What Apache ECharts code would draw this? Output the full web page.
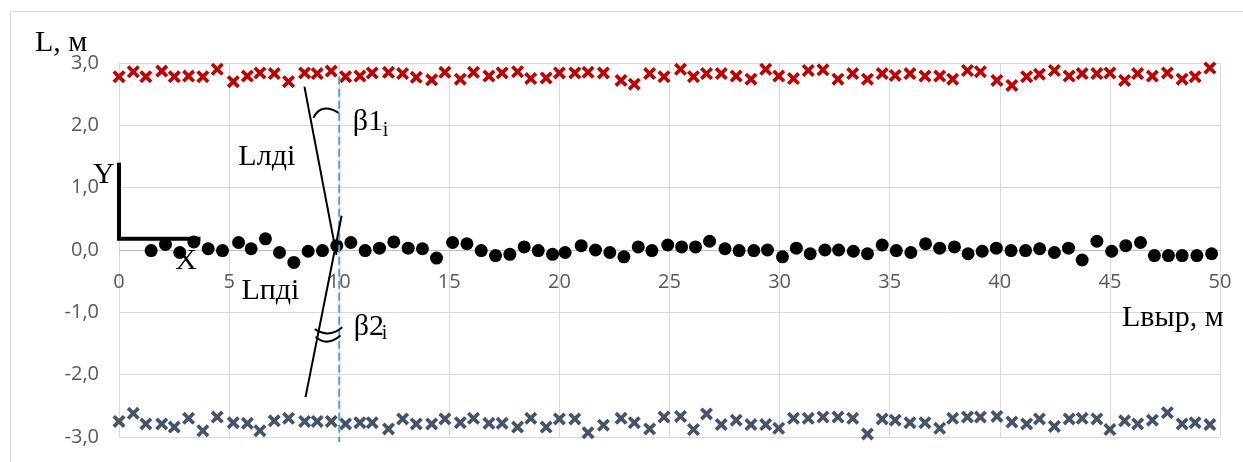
<!DOCTYPE html>
<html>
<head>
<meta charset="utf-8">
<script src="https://cdn.jsdelivr.net/npm/echarts@6/dist/echarts.min.js"></script>
<style>
  html, body { margin: 0; padding: 0; background: #ffffff; }
  #chart { width: 1243px; height: 462px; }
</style>
</head>
<body>
<div id="chart"></div>
<script>
// Stations along the opening (m) where both edge points were measured
const edgeX = [0, 0.65, 1.22, 1.94, 2.51, 3.16, 3.81, 4.46, 5.19, 5.83,
  6.40, 7.05, 7.70, 8.43, 9.00, 9.64, 10.29, 10.94, 11.50, 12.24,
  12.88, 13.50, 14.20, 14.80, 15.50, 16.10, 16.80, 17.40, 18.10, 18.70,
  19.40, 20.00, 20.70, 21.30, 22.00, 22.80, 23.40, 24.10,
  24.75, 25.50, 26.09, 26.68, 27.35, 28.03, 28.70, 29.37, 29.96, 30.63,
  31.30, 31.97, 32.65, 33.32, 33.99, 34.66, 35.25, 35.92, 36.60, 37.27,
  37.86, 38.53, 39.12, 39.87, 40.55, 41.22, 41.80, 42.48, 43.15, 43.74,
  44.41, 45.00, 45.67, 46.26, 46.93, 47.61, 48.28, 48.87, 49.54];

// Left edge offset L_ЛД (m)
const leftEdge = [2.78, 2.86, 2.78, 2.87, 2.78, 2.79, 2.78, 2.90, 2.70, 2.79,
  2.84, 2.83, 2.70, 2.84, 2.83, 2.87, 2.78, 2.79, 2.84, 2.85,
  2.83, 2.77, 2.73, 2.85, 2.74, 2.85, 2.79, 2.84, 2.86, 2.75,
  2.76, 2.84, 2.84, 2.85, 2.84, 2.72, 2.66, 2.83,
  2.78, 2.90, 2.78, 2.83, 2.83, 2.79, 2.74, 2.90, 2.79, 2.75,
  2.88, 2.89, 2.74, 2.83, 2.74, 2.83, 2.80, 2.83, 2.79, 2.79,
  2.74, 2.88, 2.86, 2.72, 2.64, 2.78, 2.82, 2.88, 2.79, 2.83,
  2.83, 2.84, 2.72, 2.83, 2.79, 2.84, 2.74, 2.78, 2.92];

// Right edge offset L_ПД (m)
const rightEdge = [-2.75, -2.62, -2.79, -2.79, -2.84, -2.70, -2.90, -2.68, -2.77, -2.78,
  -2.90, -2.74, -2.70, -2.75, -2.75, -2.75, -2.79, -2.77, -2.77, -2.87,
  -2.71, -2.79, -2.79, -2.71, -2.77, -2.70, -2.78, -2.78, -2.84, -2.70,
  -2.84, -2.71, -2.71, -2.93, -2.81, -2.70, -2.77, -2.87,
  -2.68, -2.67, -2.88, -2.63, -2.80, -2.73, -2.80, -2.80, -2.86, -2.70,
  -2.70, -2.68, -2.68, -2.70, -2.95, -2.71, -2.73, -2.77, -2.77, -2.86,
  -2.70, -2.68, -2.68, -2.67, -2.76, -2.79, -2.71, -2.83, -2.71, -2.70,
  -2.71, -2.88, -2.74, -2.79, -2.73, -2.61, -2.79, -2.77, -2.80];

// Centre-line stations and deviations (m)
const axisX = [1.46, 2.11, 2.76, 3.40, 4.05, 4.70, 5.43, 6.00, 6.65, 7.29,
  7.94, 8.59, 9.24, 9.89, 10.53, 11.18, 11.83, 12.48, 13.13, 13.78,
  14.42, 15.15, 15.80, 16.45, 17.10, 17.75, 18.40, 19.04, 19.69, 20.26,
  20.99, 21.64, 22.29, 22.93, 23.58, 24.20,
  24.92, 25.55, 26.18, 26.82, 27.52, 28.16, 28.83, 29.45, 30.13, 30.76,
  31.39, 32.06, 32.68, 33.35, 33.99, 34.66, 35.30, 35.96, 36.63, 37.27,
  37.94, 38.56, 39.20, 39.84, 40.51, 41.17, 41.81, 42.48, 43.12, 43.74,
  44.41, 45.08, 45.72, 46.39, 47.02, 47.66, 48.28, 48.95, 49.62];
const axisY = [-0.01, 0.09, -0.04, 0.13, 0.02, -0.01, 0.12, 0.02, 0.18, -0.04,
  -0.20, -0.02, -0.01, 0.07, 0.12, -0.01, 0.03, 0.13, 0.03, 0.02,
  -0.13, 0.12, 0.10, -0.01, -0.09, -0.07, 0.05, -0.01, -0.07, -0.04,
  0.07, 0.00, -0.04, -0.11, 0.05, -0.01,
  0.08, 0.05, 0.05, 0.14, 0.02, -0.01, -0.01, 0.00, -0.11, 0.03,
  -0.06, 0.00, 0.00, -0.02, -0.06, 0.08, -0.01, -0.04, 0.10, 0.03,
  0.05, -0.06, -0.02, 0.03, -0.01, -0.01, 0.02, -0.04, 0.03, -0.16,
  0.14, -0.02, 0.07, 0.12, -0.09, -0.09, -0.09, -0.09, -0.06];

// Section where the angles are shown
const sectionX = 10;

const crossSymbol = 'path://M0,2L2,0L5,3L8,0L10,2L7,5L10,8L8,10L5,7L2,10L0,8L3,5Z';
const serif = '"Liberation Serif", "Times New Roman", serif';
const tickFont = '"Open Sans", sans-serif';

const chart = echarts.init(document.getElementById('chart'), null, { renderer: 'canvas' });

const pairs = (xs, ys) => xs.map((x, i) => [x, ys[i]]);

const xAxisOption = {
  type: 'value', min: 0, max: 50, interval: 5,
  axisLine: { show: true, onZero: false, lineStyle: { color: '#bfbfbf', width: 1 } },
  axisTick: { show: false },
  axisLabel: { color: '#595959', fontFamily: tickFont, fontSize: 20, margin: 22 },
  splitLine: { show: true, lineStyle: { color: '#d9d9d9', width: 1 } }
};

chart.setOption({
  animation: false,
  backgroundColor: '#ffffff',
  grid: { left: 119, right: 23, top: 63, bottom: 25, containLabel: false, outerBoundsMode: 'none' },
  xAxis: xAxisOption,
  yAxis: {
    type: 'value', min: -3, max: 3, interval: 1,
    axisLine: { show: false },
    axisTick: { show: false },
    axisLabel: {
      color: '#595959', fontFamily: tickFont, fontSize: 20, margin: 20,
      formatter: v => v.toFixed(1).replace('.', ',')
    },
    splitLine: { show: true, lineStyle: { color: '#d9d9d9', width: 1 } }
  },
  series: [
    {
      type: 'scatter', data: pairs(edgeX, leftEdge),
      symbol: crossSymbol, symbolSize: 13,
      itemStyle: { color: '#c00000', opacity: 1 }
    },
    {
      type: 'scatter', data: pairs(axisX, axisY),
      symbol: 'circle', symbolSize: 13,
      itemStyle: { color: '#000000', opacity: 1 }
    },
    {
      type: 'scatter', data: pairs(edgeX, rightEdge),
      symbol: crossSymbol, symbolSize: 13,
      itemStyle: { color: '#44546a', opacity: 1 }
    }
  ]
});

const px = (x, y) => chart.convertToPixel({ gridIndex: 0 }, [x, y]);

// Move the horizontal axis (line and labels) up to the zero level of L
const zeroShift = px(0, -3)[1] - px(0, 0)[1];
chart.setOption({ xAxis: Object.assign({}, xAxisOption, { offset: -zeroShift }) });

// Sketch overlay: local axes, edge directions and angle arcs, placed in data units
function line(a, b, stroke, width, dash) {
  const p = px(a[0], a[1]), q = px(b[0], b[1]);
  return {
    type: 'line', z: 100,
    shape: { x1: p[0], y1: p[1], x2: q[0], y2: q[1] },
    style: { stroke: stroke, lineWidth: width, lineDash: dash || null }
  };
}
function arc(a, c, b) {
  const p = px(a[0], a[1]), k = px(c[0], c[1]), q = px(b[0], b[1]);
  return {
    type: 'bezierCurve', z: 100,
    shape: { x1: p[0], y1: p[1], cpx1: k[0], cpy1: k[1], x2: q[0], y2: q[1] },
    style: { stroke: '#000', lineWidth: 2, fill: null }
  };
}
// text whose baseline-left corner sits at a data point
function label(text, at, size) {
  const p = px(at[0], at[1]);
  return {
    type: 'text', z: 101, x: p[0], y: p[1] - 0.34 * size,
    style: { text: text, fill: '#000', fontFamily: serif, fontSize: size, align: 'left', verticalAlign: 'middle' }
  };
}
function fixedLabel(text, x, baseline, size) {
  return {
    type: 'text', z: 101, x: x, y: baseline - 0.34 * size,
    style: { text: text, fill: '#000', fontFamily: serif, fontSize: size, align: 'left', verticalAlign: 'middle' }
  };
}

const corner = [px(0, 1.40), px(0, 0.18), px(3.7, 0.18)];

chart.setOption({
  graphic: [
    { type: 'line', shape: { x1: 10.5, y1: 11, x2: 10.5, y2: 462 }, style: { stroke: '#d9d9d9', lineWidth: 1 } },
    { type: 'line', shape: { x1: 10, y1: 11.5, x2: 1243, y2: 11.5 }, style: { stroke: '#d9d9d9', lineWidth: 1 } },
    fixedLabel('L, м', 35, 53, 30),
    fixedLabel('Lвыр, м', 1122, 328, 30),
    {
      type: 'polyline', z: 100,
      shape: { points: corner },
      style: { stroke: '#000', lineWidth: 4, fill: null }
    },
    label('Y', [-1.18, 1.04], 30),
    label('X', [2.55, -0.34], 30),
    line([sectionX, 2.78], [sectionX, -3.08], '#5b9bd5', 2, [8, 4]),
    line([8.42, 2.62], [9.88, -0.08], '#000', 2),
    line([10.11, 0.55], [8.47, -2.36], '#000', 2),
    arc([8.83, 2.12], [9.18, 2.37], [9.97, 2.20]),
    arc([8.89, -1.27], [9.54, -1.42], [10.14, -1.24]),
    arc([8.93, -1.39], [9.42, -1.56], [10.06, -1.37]),
    label('Lлдi', [5.42, 1.32], 30),
    label('Lпдi', [5.56, -0.82], 30),
    label('β1', [10.61, 1.88], 30),
    label('i', [11.98, 1.80], 20),
    label('β2', [10.66, -1.40], 30),
    label('i', [11.93, -1.46], 20)
  ]
});
</script>
</body>
</html>
